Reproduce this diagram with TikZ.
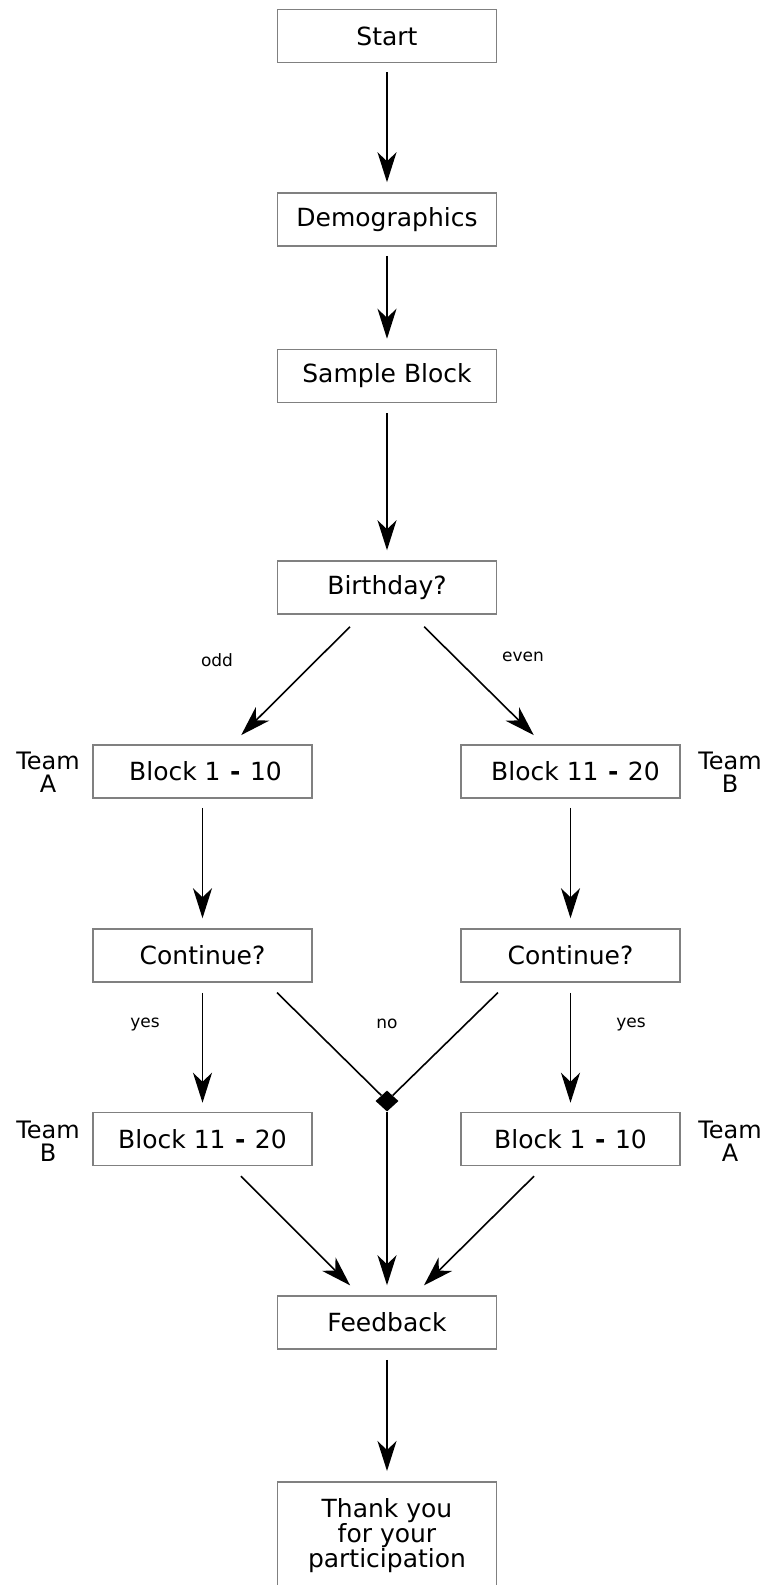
\documentclass[tikz,border=0pt]{standalone}
\usepackage{fontspec}
\setmainfont{DejaVu Sans}
\usetikzlibrary{arrows.meta,shapes.geometric}
\definecolor{boxgray}{RGB}{128,128,128}
\newcommand{\dsh}{\hspace{9.5pt}\textbf{-}\hspace{9.5pt}}
\begin{document}
\begin{tikzpicture}[x=1pt,y=-1pt,
  stepbox/.style={draw=boxgray,line width=1.5pt,minimum width=219pt,minimum height=53pt,inner sep=0pt,font=\fontsize{25}{30}\selectfont},
  arr/.style={-{Stealth[length=30pt,width=19pt,inset=9pt]},line width=1.6pt},
  lnk/.style={line width=1.6pt},
  lbl/.style={font=\fontsize{17}{20}\selectfont,inner sep=0pt},
  team/.style={font=\fontsize{24}{23}\selectfont,align=center,inner sep=0pt}]
\useasboundingbox (0,0) rectangle (767,1585);

% boxes
\node[stepbox] (start) at (387,36) {Start};
\node[stepbox] (demo) at (387,219.5) {Demographics};
\node[stepbox] (sample) at (387,376) {Sample Block};
\node[stepbox] (birthday) at (387,587.5) {Birthday?};
\node[stepbox] (bAL) at (202.5,771.5) {\hspace{6pt}Block 1\dsh 10};
\node[stepbox] (bBR) at (570.5,771.5) {\hspace{10pt}Block 11\dsh 20};
\node[stepbox] (contL) at (202.5,955.5) {Continue?};
\node[stepbox] (contR) at (570.5,955.5) {Continue?};
\node[stepbox] (bBL) at (202.5,1139) {Block 11\dsh 20};
\node[stepbox] (bAR) at (570.5,1139) {Block 1\dsh 10};
\node[stepbox] (feedback) at (387,1322.5) {Feedback};
\node[stepbox,anchor=north,minimum height=108pt,align=center,font=\fontsize{25}{22.5}\selectfont] (thank) at (387,1481) {Thank you\\for your\\participation};

% team labels
\node[team] (tA1) at (48,772) {Team\\A};
\node[team] (tB1) at (730,772) {Team\\B};
\node[team] (tB2) at (48,1141) {Team\\B};
\node[team] (tA2) at (730,1141) {Team\\A};

% junction
\node[shape=diamond,fill=black,minimum width=23pt,minimum height=21pt,inner sep=0pt] (junction) at (387,1101) {};

% edge labels
\node[lbl] (lodd) at (217,660) {odd};
\node[lbl] (leven) at (523,657) {even};
\node[lbl] (lyesL) at (145,1024) {yes};
\node[lbl] (lno) at (387,1024) {no};
\node[lbl] (lyesR) at (631,1024) {yes};

% vertical arrows
\draw[arr,shorten <=9pt,shorten >=10pt] (start.south) -- (demo.north);
\draw[arr,shorten <=9pt,shorten >=10pt] (demo.south) -- (sample.north);
\draw[arr,shorten <=10pt,shorten >=10pt] (sample.south) -- (birthday.north);
\draw[arr,shorten <=9pt,shorten >=10pt] (bAL.south) -- (contL.north);
\draw[arr,shorten <=9pt,shorten >=10pt] (bBR.south) -- (contR.north);
\draw[arr,shorten <=10pt,shorten >=9pt] (contL.south) -- (bBL.north);
\draw[arr,shorten <=10pt,shorten >=9pt] (contR.south) -- (bAR.north);
\draw[arr,shorten <=10pt,shorten >=10pt] (feedback.south) -- (thank.north);

% diagonal arrows from Birthday
\draw[arr,shorten <=17pt,shorten >=13pt] ([xshift=-25pt]birthday.south) -- ([xshift=29.5pt]bAL.north);
\draw[arr,shorten <=17pt,shorten >=13pt] ([xshift=25pt]birthday.south) -- ([xshift=-27.5pt]bBR.north);

% no branches to junction
\draw[lnk,shorten <=14pt] ([xshift=64.5pt]contL.south) -- (junction);
\draw[lnk,shorten <=14pt] ([xshift=-62.5pt]contR.south) -- (junction);
\draw[arr,shorten >=10pt] (junction) -- (feedback.north);

% into feedback
\draw[arr,shorten <=14pt,shorten >=14pt] ([xshift=28.5pt]bBL.south) -- ([xshift=-27pt]feedback.north);
\draw[arr,shorten <=14pt,shorten >=14pt] ([xshift=-26.5pt]bAR.south) -- ([xshift=27pt]feedback.north);
\end{tikzpicture}
\end{document}
